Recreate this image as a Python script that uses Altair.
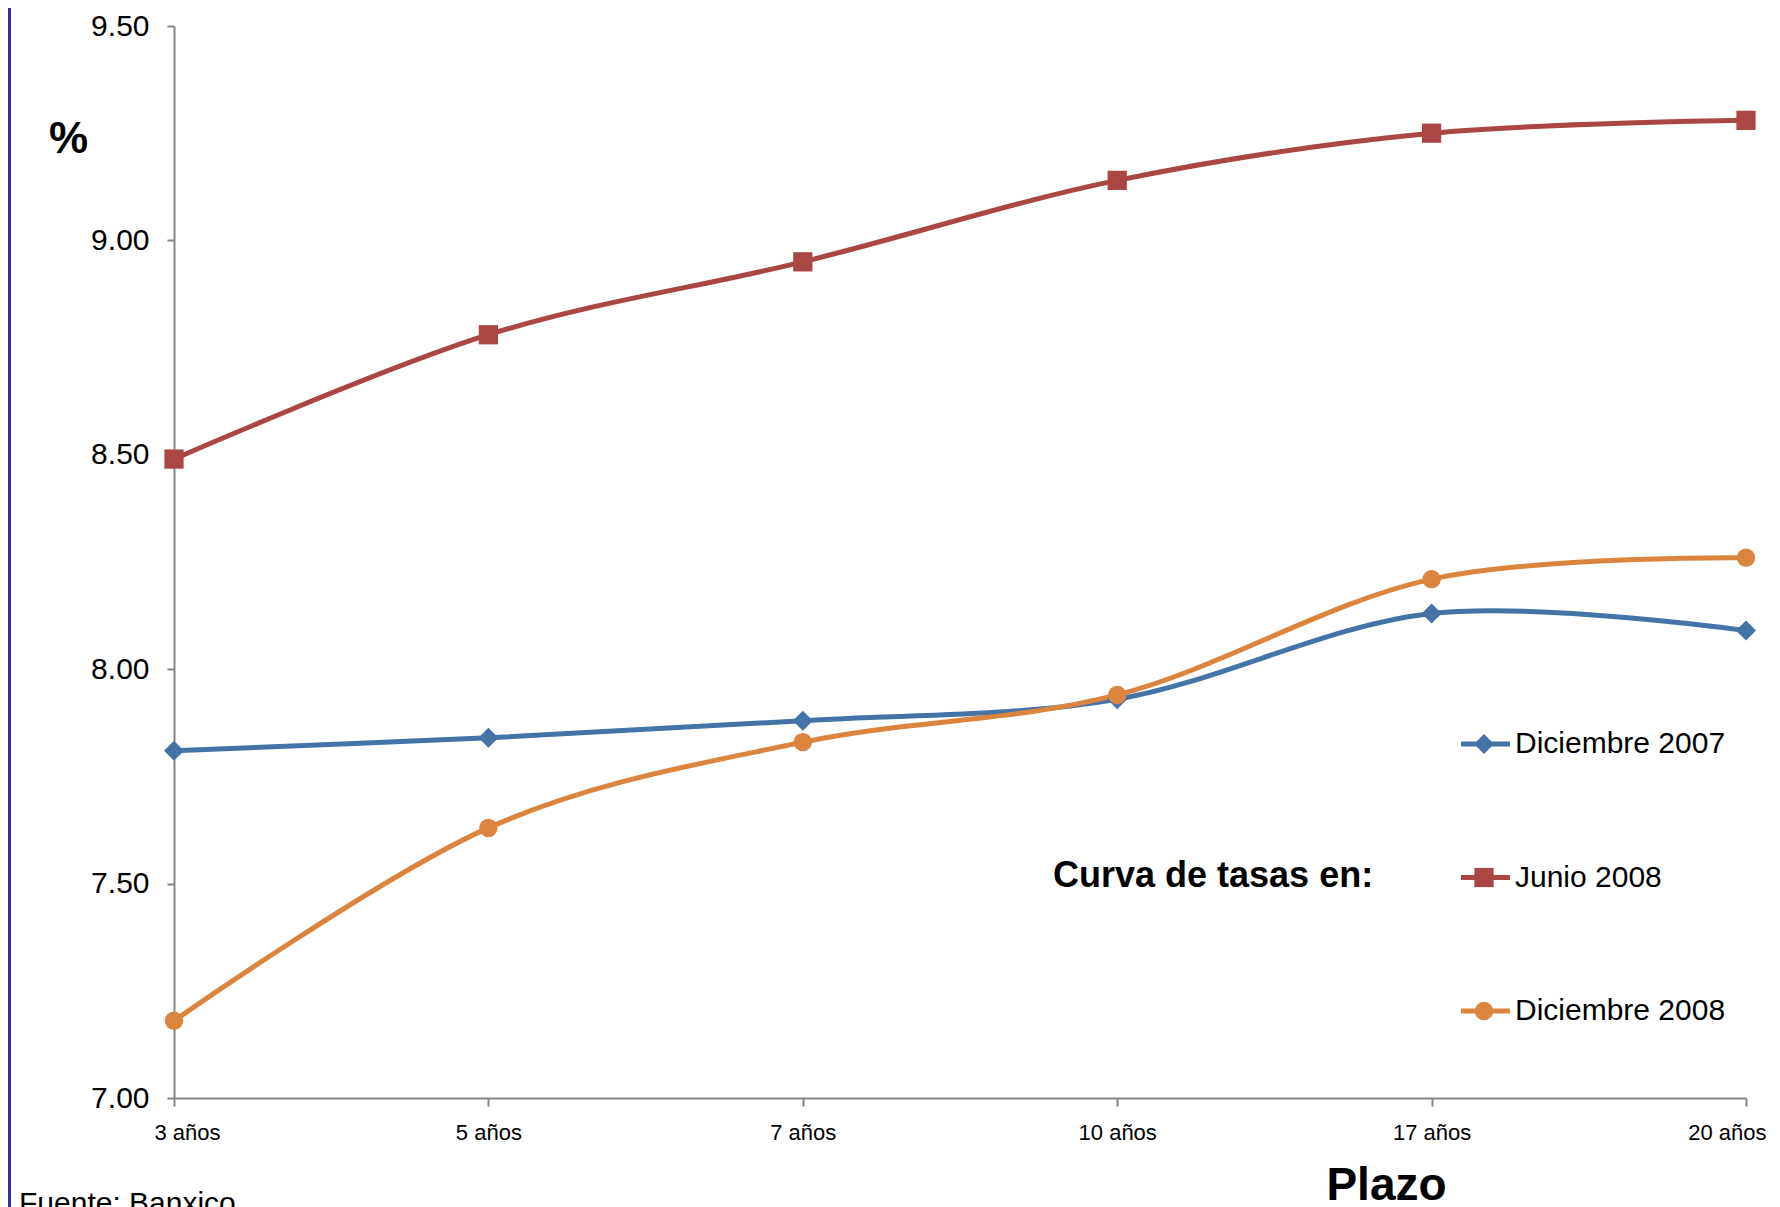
import altair as alt
import pandas as pd

plazos = ["3 años", "5 años", "7 años", "10 años", "17 años", "20 años"]
series_names = ["Diciembre 2007", "Junio 2008", "Diciembre 2008"]
dic2007 = [7.81, 7.84, 7.88, 7.93, 8.13, 8.09]
jun2008 = [8.49, 8.78, 8.95, 9.14, 9.25, 9.28]
dic2008 = [7.18, 7.63, 7.83, 7.94, 8.21, 8.26]
y_ticks = [7.0, 7.5, 8.0, 8.5, 9.0, 9.5]
colors = ["#4572A7", "#AA4643", "#DB843D"]
shapes = ["diamond", "square", "circle"]
sizes = [400, 340, 360]

FONT = "Liberation Sans"

rows = []
for name, vals in zip(series_names, [dic2007, jun2008, dic2008]):
    for p, v in zip(plazos, vals):
        rows.append({"serie": name, "plazo": p, "tasa": v})
df = pd.DataFrame(rows)

color = alt.Color("serie:N", scale=alt.Scale(domain=series_names, range=colors), legend=None)
shape = alt.Shape("serie:N", scale=alt.Scale(domain=series_names, range=shapes), legend=None)
size = alt.Size("serie:O", scale=alt.Scale(domain=series_names, range=sizes), legend=None)

x = alt.X(
    "plazo:N", sort=plazos,
    scale=alt.Scale(type="point", domain=plazos, padding=0),
    axis=alt.Axis(title="Plazo", labelAngle=0, labelFontSize=22, tickSize=8, labelPadding=16,
                  labelFlush=True, labelFlushOffset=20,
                  titleFontSize=46, titleFontWeight="bold", titleX=1212, titleY=87,
                  titleAlign="center", titleBaseline="middle"),
)
y = alt.Y(
    "tasa:Q",
    scale=alt.Scale(domain=[7, 9.5], nice=False, zero=False),
    axis=alt.Axis(values=y_ticks, format=".2f", title="%", labelFontSize=30, tickSize=7,
                  labelPadding=18, titleAngle=0, titleX=-106, titleY=113,
                  titleFontSize=44, titleFontWeight="bold", titleAlign="center",
                  titleBaseline="middle"),
)

lines = alt.Chart(df).mark_line(interpolate="cardinal", strokeWidth=5).encode(x=x, y=y, color=color)
points = alt.Chart(df).mark_point(filled=True, opacity=1).encode(x=x, y=y, color=color, shape=shape, size=size)
main = alt.layer(lines, points)

leg_df = pd.DataFrame({"serie": series_names})
ly = alt.Y("serie:N", scale=alt.Scale(type="point", domain=series_names, range=[718, 985], padding=0), axis=None)
leg_rule = alt.Chart(leg_df).mark_rule(strokeWidth=5).encode(
    x=alt.value(1287), x2=alt.value(1336), y=ly, color=color)
leg_pt = alt.Chart(leg_df).mark_point(filled=True, opacity=1).encode(
    x=alt.value(1310), y=ly, color=color, shape=shape, size=size)
leg_txt = alt.Chart(leg_df).mark_text(align="left", baseline="middle", fontSize=30, font=FONT, color="#000").encode(
    x=alt.value(1341), y=ly, text="serie:N")
legend = alt.layer(leg_rule, leg_pt, leg_txt)

curva = alt.Chart(pd.DataFrame({"t": ["Curva de tasas en:"]})).mark_text(
    align="left", baseline="middle", fontSize=36, fontWeight="bold", font=FONT, color="#000"
).encode(x=alt.value(879), y=alt.value(850), text="t:N")

fuente = alt.Chart(pd.DataFrame({"t": ["Fuente: Banxico"]})).mark_text(
    align="left", baseline="top", fontSize=30, font=FONT, color="#000"
).encode(x=alt.value(-155), y=alt.value(1163), text="t:N")

border = alt.Chart(pd.DataFrame({"a": [0]})).mark_rule(color="#333399", strokeWidth=3).encode(
    x=alt.value(-164.5), y=alt.value(-18), y2=alt.value(1190))

chart = alt.layer(main, legend, curva, fuente, border).resolve_scale(y="independent").properties(
    width=1572, height=1072,
    autosize=alt.AutoSizeParams(type="none"),
    padding={"left": 166, "top": 18, "right": 26, "bottom": 112},
).configure_view(stroke=None).configure_axis(
    grid=False, domainColor="#868686", domainWidth=2, tickColor="#868686", tickWidth=2,
    labelFont=FONT, labelColor="#000", titleFont=FONT, titleColor="#000",
)

chart.save("out.html", embed_options={"renderer": "svg", "actions": False})
